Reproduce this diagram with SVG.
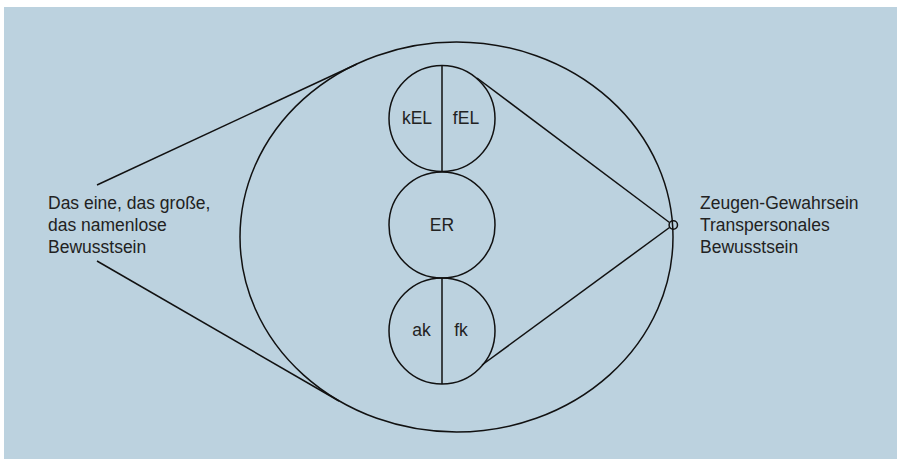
<svg xmlns="http://www.w3.org/2000/svg" width="897" height="459" viewBox="0 0 897 459">
<style>
.ln{fill:none;stroke:#111;stroke-width:1.5}
.t{font-family:"Liberation Sans",Arial,sans-serif;font-size:17.5px;fill:#222}
.c{text-anchor:middle}
</style>
<rect x="0" y="0" width="897" height="459" fill="#fff"/>
<rect x="4" y="7" width="893" height="452" fill="#bcd2df"/>
<g id="connectors">
<line class="ln" x1="97" y1="185" x2="357" y2="64"/>
<line class="ln" x1="97" y1="261" x2="339" y2="401"/>
<line class="ln" x1="477" y1="78" x2="669.5" y2="222.5"/>
<line class="ln" x1="482" y1="365" x2="669.5" y2="227.5"/>
</g>
<g id="outer"><ellipse class="ln" cx="456.5" cy="237" rx="216.5" ry="195"/></g>
<g id="top">
<circle class="ln" cx="442" cy="118.5" r="53"/>
<line class="ln" x1="442" y1="65.5" x2="442" y2="171.5"/>
<text class="t c" x="417" y="123.5">kEL</text>
<text class="t c" x="466" y="123.5">fEL</text>
</g>
<g id="mid">
<circle class="ln" cx="442" cy="225" r="53"/>
<text class="t c" x="442" y="231">ER</text>
</g>
<g id="bottom">
<circle class="ln" cx="442" cy="331" r="53"/>
<line class="ln" x1="442" y1="278" x2="442" y2="384"/>
<text class="t c" x="421.5" y="336">ak</text>
<text class="t c" x="461" y="336">fk</text>
</g>
<g id="witness"><circle class="ln" cx="673.3" cy="225" r="4.2"/></g>
<g id="left-label">
<text class="t" x="48" y="208.5">Das eine, das große,</text>
<text class="t" x="48" y="230.5">das namenlose</text>
<text class="t" x="48" y="252.5">Bewusstsein</text>
</g>
<g id="right-label">
<text class="t" x="700" y="208.5">Zeugen-Gewahrsein</text>
<text class="t" x="700" y="230.5">Transpersonales</text>
<text class="t" x="700" y="252.5">Bewusstsein</text>
</g>
</svg>
